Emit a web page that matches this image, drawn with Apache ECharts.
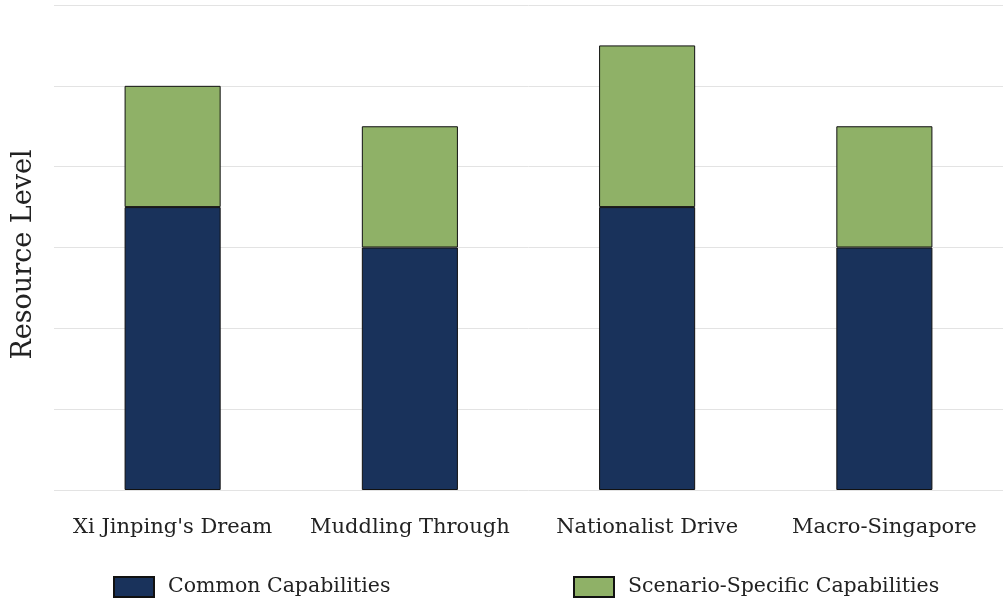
<!DOCTYPE html>
<html><head><meta charset="utf-8">
<script src="https://cdn.jsdelivr.net/npm/echarts@6/dist/echarts.min.js"></script>
<style>html,body{margin:0;padding:0;background:#fff}#c{width:1003px;height:603px}</style>
</head><body><div id="c"></div>
<script>
const categories = ["Xi Jinping's Dream", "Muddling Through", "Nationalist Drive", "Macro-Singapore"];
const commonCapabilities = [3.5, 3, 3.5, 3];
const scenarioSpecific = [1.5, 1.5, 2, 1.5];
const seriesNames = ["Common Capabilities", "Scenario-Specific Capabilities"];
const FONT = "DejaVu Serif";
const chart = echarts.init(document.getElementById('c'), null, {renderer: 'canvas'});
chart.setOption({
  animation: false,
  backgroundColor: '#fff',
  textStyle: {fontFamily: FONT},
  grid: {left: 54, right: 0, top: 5, bottom: 113, outerBoundsMode: 'none', containLabel: false},
  legend: [
    {data: [seriesNames[0]], icon: 'rect', left: 113, top: 576, itemWidth: 40, itemHeight: 20, itemGap: 14, padding: 0,
     textStyle: {fontFamily: FONT, fontSize: 20.5, color: '#222', padding: [2, 0, 0, 9]}},
    {data: [seriesNames[1]], icon: 'rect', left: 573, top: 576, itemWidth: 40, itemHeight: 20, padding: 0,
     textStyle: {fontFamily: FONT, fontSize: 20.5, color: '#222', padding: [2, 0, 0, 9]}}
  ],
  xAxis: {
    type: 'category', data: categories,
    axisLine: {show: false}, axisTick: {show: false},
    axisLabel: {interval: 0, fontFamily: FONT, fontSize: 21, color: '#222', margin: 27}
  },
  yAxis: {
    type: 'value', min: 0, max: 6, interval: 1,
    name: 'Resource Level', nameLocation: 'middle', nameGap: 17,
    nameTextStyle: {fontFamily: FONT, fontSize: 27, color: '#222', padding: [0, 14, 0, 0]},
    axisLabel: {show: false}, axisLine: {show: false}, axisTick: {show: false},
    splitLine: {lineStyle: {color: '#e3e3e3', width: 1}}
  },
  series: [
    {name: seriesNames[0], type: 'bar', stack: 's', data: commonCapabilities, barWidth: '40.5%',
     itemStyle: {color: '#19325b', borderColor: '#111', borderWidth: 1}},
    {name: seriesNames[1], type: 'bar', stack: 's', data: scenarioSpecific, barWidth: '40.5%',
     itemStyle: {color: '#8fb167', borderColor: '#111', borderWidth: 1}}
  ]
});
</script></body></html>
